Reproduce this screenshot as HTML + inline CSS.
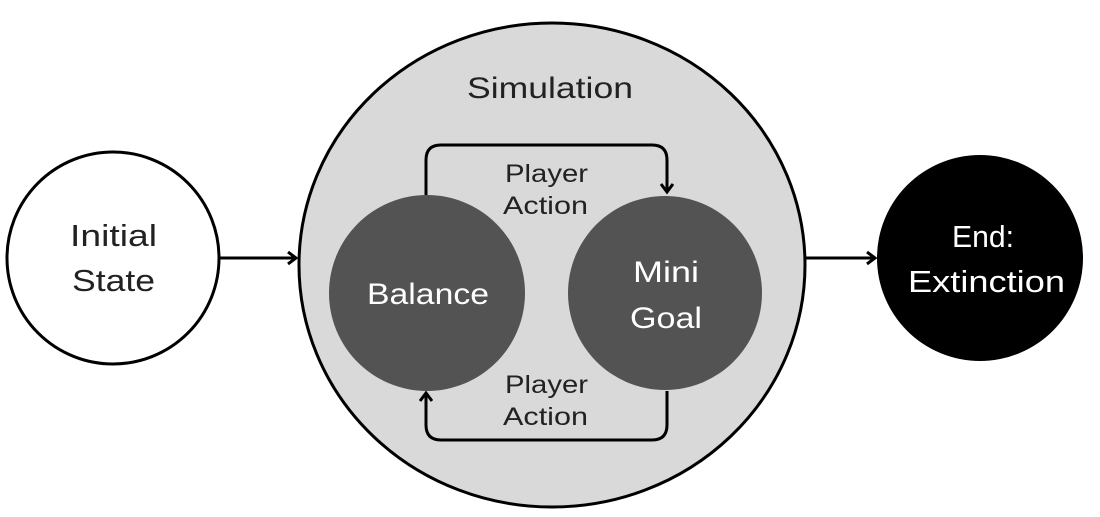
<!DOCTYPE html>
<html><head><meta charset="utf-8"><style>
html,body{margin:0;padding:0;background:#fff;}
svg{display:block;}
text{font-family:"Liberation Sans","DejaVu Sans",sans-serif;}
</style></head><body>
<svg width="1100" height="517" viewBox="0 0 1100 517">
<defs>
<marker id="a" markerWidth="14" markerHeight="14" refX="10" refY="7" orient="auto" markerUnits="userSpaceOnUse">
<path d="M2,1 L10,7 L2,13" fill="none" stroke="#000" stroke-width="3"/>
</marker>
</defs>
<circle cx="113" cy="258" r="106" fill="#fff" stroke="#000" stroke-width="3"/>
<text x="70" y="246" font-size="31" textLength="87" lengthAdjust="spacingAndGlyphs" fill="#222">Initial</text>
<text x="72" y="291" font-size="31" textLength="83" lengthAdjust="spacingAndGlyphs" fill="#222">State</text>
<ellipse cx="552" cy="265" rx="253" ry="242" fill="#d9d9d9" stroke="#000" stroke-width="3"/>
<text x="467" y="98" font-size="30" textLength="166" lengthAdjust="spacingAndGlyphs" fill="#222">Simulation</text>
<line x1="220" y1="258" x2="296" y2="258" stroke="#000" stroke-width="3" marker-end="url(#a)"/>
<line x1="806" y1="258" x2="875" y2="258" stroke="#000" stroke-width="3" marker-end="url(#a)"/>
<path d="M426,195 V160 Q426,145 441,145 H652 Q667,145 667,160 V192" fill="none" stroke="#000" stroke-width="3" marker-end="url(#a)"/>
<path d="M667,391 V425 Q667,440 652,440 H441 Q426,440 426,425 V393" fill="none" stroke="#000" stroke-width="3" marker-end="url(#a)"/>
<circle cx="427" cy="293" r="98" fill="#535353"/>
<circle cx="665" cy="293" r="97" fill="#535353"/>
<text x="367" y="304" font-size="30" textLength="122" lengthAdjust="spacingAndGlyphs" fill="#fff">Balance</text>
<text x="633" y="282" font-size="30" textLength="66" lengthAdjust="spacingAndGlyphs" fill="#fff">Mini</text>
<text x="630" y="328" font-size="30" textLength="72" lengthAdjust="spacingAndGlyphs" fill="#fff">Goal</text>
<text x="505" y="182" font-size="25" textLength="83" lengthAdjust="spacingAndGlyphs" fill="#222">Player</text>
<text x="503" y="214" font-size="25" textLength="85" lengthAdjust="spacingAndGlyphs" fill="#222">Action</text>
<text x="505" y="393" font-size="25" textLength="83" lengthAdjust="spacingAndGlyphs" fill="#222">Player</text>
<text x="503" y="425" font-size="25" textLength="85" lengthAdjust="spacingAndGlyphs" fill="#222">Action</text>
<circle cx="980" cy="258" r="103" fill="#000"/>
<text x="952" y="247" font-size="31" textLength="62" lengthAdjust="spacingAndGlyphs" fill="#fff">End:</text>
<text x="908" y="292" font-size="31" textLength="157" lengthAdjust="spacingAndGlyphs" fill="#fff">Extinction</text>
</svg>
</body></html>
